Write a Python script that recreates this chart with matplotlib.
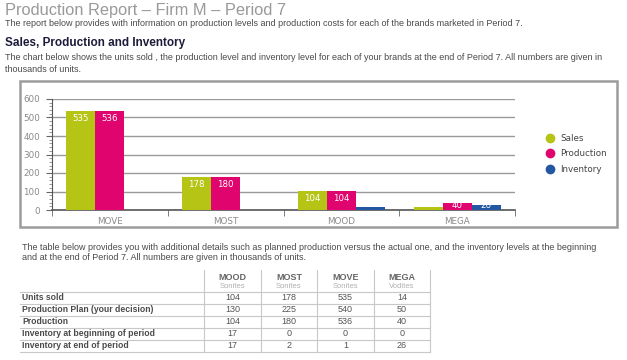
import matplotlib
matplotlib.use('Agg')
import matplotlib.pyplot as plt
from matplotlib.patches import Rectangle
from matplotlib.lines import Line2D
import numpy as np

# chart data (thousands of units)
brands = ['MOVE', 'MOST', 'MOOD', 'MEGA']
sales = [535, 178, 104, 14]
production = [536, 180, 104, 40]
inventory = [1, 2, 17, 26]
series_names = ['Sales', 'Production', 'Inventory']
series_colors = ['#B5C415', '#E0056E', '#2357A2']

# table data
table_brands = ['MOOD', 'MOST', 'MOVE', 'MEGA']
table_segments = ['Sonites', 'Sonites', 'Sonites', 'Vodites']
row_labels = ['Units sold', 'Production Plan (your decision)', 'Production',
              'Inventory at beginning of period', 'Inventory at end of period']
units_sold = [104, 178, 535, 14]
production_plan = [130, 225, 540, 50]
production_actual = [104, 180, 536, 40]
inv_begin = [17, 0, 0, 0]
inv_end = [17, 2, 1, 26]

W, H = 627, 360
fig = plt.figure(figsize=(W / 100, H / 100), dpi=100)
fig.patch.set_facecolor('white')

def fx(x):
    return x / W

def fy(y):
    return 1 - y / H

page_font = 'Liberation Sans'
chart_font = 'DejaVu Sans'
txt = '#4a4a4a'

# header texts
fig.text(fx(5), fy(10), 'Production Report \u2013 Firm M \u2013 Period 7', fontsize=11.8,
         color='#999999', family=page_font, va='center')
fig.text(fx(5), fy(23), 'The report below provides with information on production levels and production costs for each of the brands marketed in Period 7.',
         fontsize=6.5, color=txt, family=page_font, va='center')
fig.text(fx(5), fy(43), 'Sales, Production and Inventory', fontsize=8.5, weight='bold',
         color='#1c1c3a', family=page_font, va='center')
fig.text(fx(5), fy(58), 'The chart below shows the units sold , the production level and inventory level for each of your brands at the end of Period 7. All numbers are given in',
         fontsize=6.45, color=txt, family=page_font, va='center')
fig.text(fx(5), fy(70), 'thousands of units.', fontsize=6.45, color=txt, family=page_font, va='center')

# chart frame
fig.patches.append(Rectangle((fx(20), fy(227)), fx(597), 146 / H, transform=fig.transFigure,
                             fill=False, edgecolor='#9c9c9c', lw=1.8))

ax = fig.add_axes([fx(52), fy(210), fx(463), 111 / H])
x = np.arange(len(brands))
bw = 0.25
for i, (vals, name, col) in enumerate(zip([sales, production, inventory], series_names, series_colors)):
    pos = x + (i - 1) * bw
    ax.bar(pos, vals, width=bw, color=col, label=name, zorder=3)
    for p, v in zip(pos, vals):
        if v < 20:
            continue
        ly = max(v - 40, 22)
        ax.text(p, ly, str(v), color='white', ha='center', va='center', fontsize=6.2,
                family=chart_font, zorder=4, clip_on=True)

ax.set_xlim(-0.5, len(brands) - 0.5)
ax.set_ylim(0, 600)
ax.set_yticks(range(0, 601, 100))
ax.set_yticks(range(0, 601, 20), minor=True)
ax.set_xticks(x)
ax.set_xticklabels(brands)
ax.set_xticks(np.arange(-0.5, len(brands)), minor=True)
ax.tick_params(axis='x', which='major', length=0, pad=5, labelsize=6.3, labelcolor='#8a8a8a')
ax.tick_params(axis='x', which='minor', length=4, color='#666666', direction='out')
ax.tick_params(axis='y', which='major', length=4, color='#666666', pad=4.5, labelsize=6.3, labelcolor='#8a8a8a')
ax.tick_params(axis='y', which='minor', length=2, color='#888888')
for lab in ax.get_xticklabels() + ax.get_yticklabels():
    lab.set_family(chart_font)
ax.grid(axis='y', color='#9a9a9a', lw=1, zorder=0)
ax.set_axisbelow(True)
for s in ['top', 'right']:
    ax.spines[s].set_visible(False)
ax.spines['left'].set_color('#555555')
ax.spines['bottom'].set_color('#555555')
ax.spines['bottom'].set_linewidth(1.2)

handles = [Line2D([], [], marker='o', ls='', color=c, markersize=6) for c in series_colors]
leg = fig.legend(handles, series_names, loc='center left', bbox_to_anchor=(fx(533), fy(154)),
                 frameon=False, handletextpad=0.2, labelspacing=0.75,
                 prop={'family': chart_font, 'size': 6.3})
for t in leg.get_texts():
    t.set_color('#444444')

# table intro text
fig.text(fx(22), fy(247), 'The table below provides you with additional details such as planned production versus the actual one, and the inventory levels at the beginning',
         fontsize=6.45, color=txt, family=page_font, va='center')
fig.text(fx(22), fy(258), 'and at the end of Period 7. All numbers are given in thousands of units.',
         fontsize=6.45, color=txt, family=page_font, va='center')

# table
col_edges = [204, 261, 317, 374, 430]
col_centers = [(a + b) / 2 for a, b in zip(col_edges[:-1], col_edges[1:])]
row_lines = [292, 304, 316, 328, 340, 352]
for y in row_lines:
    fig.add_artist(Line2D([fx(20), fx(430)], [fy(y), fy(y)], color='#c8c8c8', lw=0.8))
for xe in col_edges:
    fig.add_artist(Line2D([fx(xe), fx(xe)], [fy(270), fy(352)], color='#c8c8c8', lw=0.8))
for cx, b, s in zip(col_centers, table_brands, table_segments):
    fig.text(fx(cx), fy(277), b, ha='center', va='center', fontsize=6.5, weight='bold',
             color='#666666', family=page_font)
    fig.text(fx(cx), fy(287), s, ha='center', va='center', fontsize=5.5, color='#b0b0b0', family=page_font)
rows = [units_sold, production_plan, production_actual, inv_begin, inv_end]
for j, (lab, vals) in enumerate(zip(row_labels, rows)):
    yc = (row_lines[j] + row_lines[j + 1]) / 2
    fig.text(fx(22), fy(yc), lab, va='center', fontsize=6.2, weight='bold', color='#4a4a4a', family=page_font)
    for cx, v in zip(col_centers, vals):
        fig.text(fx(cx), fy(yc), str(v), ha='center', va='center', fontsize=6.5, color='#555555', family=page_font)

fig.savefig('out.png', dpi=100)
